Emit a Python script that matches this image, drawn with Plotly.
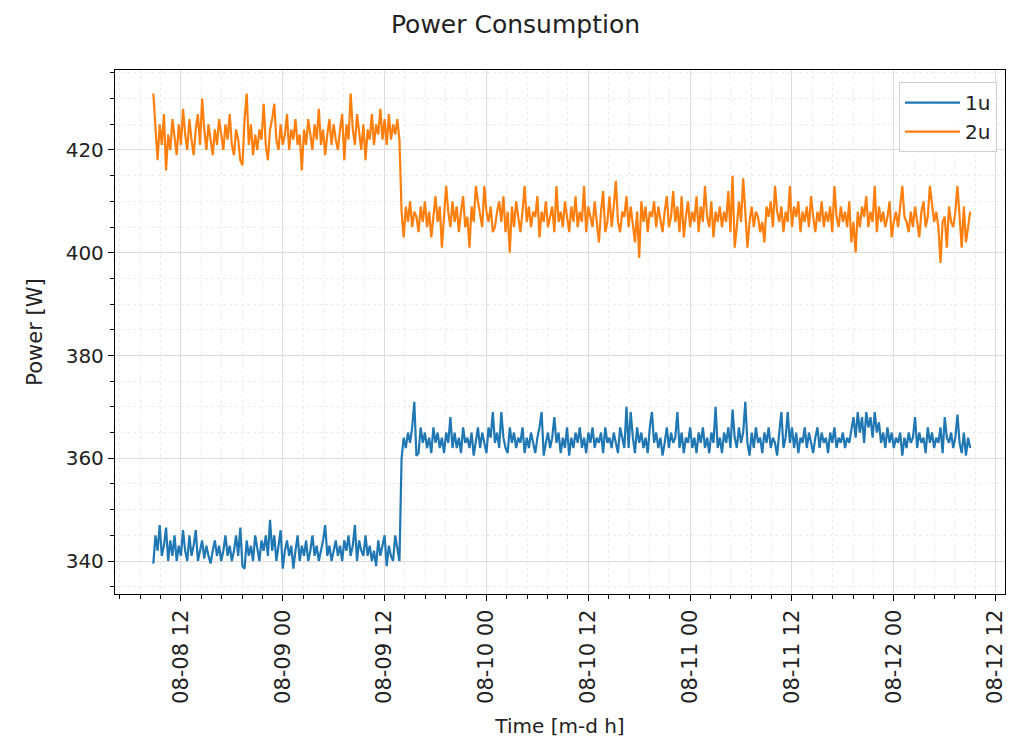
import pandas as pd
import plotly.graph_objects as go

start_time = "2023-08-08 08:45"
freq = "15min"

series_names = ["1u", "2u"]

power_1u = [
    339.5, 345, 342, 347, 341, 343, 346.5, 340, 344, 341,
    345, 340, 343, 341, 346, 342, 340, 345, 341, 343,
    346, 340, 342, 344, 340.5, 343, 341, 339.5, 342, 344,
    341, 343, 340, 342, 345, 341, 343, 340, 342, 345,
    341, 346.5, 339, 338.5, 344, 341, 343, 340, 345, 342,
    340, 344, 342, 345, 341, 348, 342, 345, 340, 343,
    346, 338.5, 342, 344, 341, 343, 338.5, 342, 345, 340,
    343, 341, 344, 340, 342, 345, 341, 343, 340, 342,
    344, 347, 341, 343, 340, 342, 344, 341, 343, 340,
    344, 342, 345, 341, 343, 347, 340, 344, 342, 341,
    345, 341, 343, 340, 342, 339, 344, 341, 343, 345,
    339, 343, 341, 340, 345, 342, 340,
    360, 364, 362, 365, 363, 366, 371, 360.5, 361, 366,
    363, 365, 362, 364, 361, 366, 363, 365, 362, 364,
    361, 365, 363, 368, 362, 365, 362, 364, 361, 366,
    363, 364, 362, 365, 360.5, 363, 366, 362, 365, 363,
    361, 366, 364, 369, 363, 365, 362, 369, 364, 362,
    361, 366, 363, 365, 362, 364, 363, 366, 361, 364,
    362, 365, 363, 361, 364, 366, 369, 360.5, 363, 365,
    362, 364, 368, 363, 365, 361, 364, 362, 366, 360.5,
    364, 362, 365, 363, 366, 362, 364, 361, 365, 363,
    366, 362, 364, 363, 365, 361, 366, 363, 364, 362,
    365, 363, 361, 366, 364, 362, 370, 362, 369, 364,
    361, 366, 363, 365, 362, 364, 361, 366, 369, 363,
    365, 362, 364, 360.5, 363, 366, 362, 365, 363, 364,
    369, 362, 365, 361, 364, 363, 366, 362, 364, 361,
    365, 363, 366, 362, 364, 361, 365, 363, 370, 362,
    364, 361, 365, 363, 366, 362, 369.5, 364, 362, 366,
    363, 365, 371, 363, 360.5, 365, 362, 366, 363, 364,
    361, 365, 363, 366, 362, 364, 363, 360.5, 365, 369,
    362, 364, 369, 363, 366, 362, 365, 361, 364, 363,
    366, 362, 365, 363, 361, 364, 366, 362, 365, 363,
    364, 361, 365, 363, 366, 362, 364, 363, 365, 362,
    364, 363, 366, 368, 364, 369, 365, 368, 363, 369,
    366, 368, 364, 369, 365, 367, 363, 365, 362, 366,
    363, 365, 362, 364, 363, 365, 360.5, 364, 362, 365,
    363, 364, 368, 362, 365, 363, 364, 361, 366, 363,
    365, 362, 364, 363, 366, 361, 368, 364, 363, 365,
    362, 364, 368.5, 363, 361, 365, 360.5, 364, 362,
]

power_2u = [
    431, 424, 418, 425, 421, 427, 416, 423, 420, 426,
    422, 419, 425, 421, 428, 423, 420, 426, 422, 419,
    424, 427, 421, 430, 424, 420, 425, 422, 419, 424,
    421, 426, 423, 420, 425, 422, 427, 421, 419, 424,
    422, 418, 417, 426, 431, 421, 425, 419, 423, 420,
    424, 422, 429, 421, 418, 424, 426, 429, 422, 420,
    425, 421, 423, 427, 420, 424, 422, 426, 421, 423,
    416, 424, 421, 426, 423, 420, 425, 422, 428, 421,
    424, 419, 423, 426, 421, 425, 422, 420, 424, 427,
    418, 425, 422, 431, 424, 421, 427, 423, 420, 425,
    418, 424, 422, 427, 421, 425, 423, 428, 422, 426,
    421, 427, 422, 425, 423, 426, 422,
    408, 403, 409, 406, 410, 405, 408, 407, 404, 409,
    406, 410, 405, 408, 403, 407, 411, 406, 409, 401,
    407, 413, 408, 405, 410, 406, 409, 404, 408, 411,
    405, 407, 401, 409, 406, 413, 410, 407, 405, 413,
    408, 406, 409, 404, 405, 408, 410, 406, 411, 404,
    408, 400, 409, 405, 410, 407, 404, 408, 413, 406,
    409, 405, 408, 407, 411, 403, 408, 406, 410, 405,
    407, 409, 404, 413, 406, 408, 405, 410, 407, 404,
    409, 406, 411, 405, 408, 406, 413, 404, 409, 407,
    405, 410, 406, 402, 408, 412, 404, 406, 411, 405,
    409, 414, 406, 404, 408, 407, 411, 405, 409, 406,
    402, 408, 399, 410, 406, 409, 404, 408, 407, 410,
    405, 409, 406, 404, 408, 411, 405, 407, 412, 406,
    409, 404, 411, 403, 407, 410, 405, 408, 406, 411,
    404, 409, 406, 413, 407, 405, 410, 403, 408, 406,
    409, 405, 408, 406, 412, 404, 415, 401, 405, 410,
    406, 414.5, 408, 401, 406, 409, 405, 408, 407, 404,
    406, 402, 409, 407, 410, 405, 413, 408, 406, 409,
    404, 408, 406, 413, 405, 409, 407, 410, 404, 408,
    406, 409, 405, 411, 407, 404, 408, 406, 410, 405,
    408, 406, 409, 404, 413, 407, 405, 409, 406, 408,
    405, 410, 402, 406, 400, 408, 405, 409, 407, 411,
    405, 408, 406, 413, 404, 409, 406, 408, 405, 407,
    410, 403, 406, 408, 405, 409, 413, 407, 406, 404,
    408, 405, 409, 406, 403, 408, 410, 405, 407, 413,
    409, 406, 408, 405, 398, 406, 407, 401, 409, 406,
    405, 408, 413, 406, 401, 409, 402, 405, 408,
]

y_ticks = [340, 360, 380, 400, 420]
x_range = ["2023-08-08 04:14", "2023-08-12 13:06"]
y_range = [333.58, 435.57]

times = pd.date_range(start_time, periods=len(power_1u), freq=freq)

FONT = "DejaVu Sans"
colors = ["#1f77b4", "#ff7f0e"]

fig = go.Figure()
for name, vals, col in zip(series_names, [power_1u, power_2u], colors):
    fig.add_trace(go.Scatter(x=times, y=vals, mode="lines", name=name,
                             line=dict(color=col, width=2.2)))

fig.update_layout(
    width=1015, height=741,
    margin=dict(l=107, r=18, t=62, b=155, autoexpand=False),
    paper_bgcolor="white", plot_bgcolor="white",
    font=dict(family=FONT, size=18, color="#222222"),
    title=dict(text="Power Consumption", x=0.5, xanchor="center",
               y=1 - 16 / 741, yanchor="middle", font=dict(size=25, color="#222222")),
    showlegend=True,
    legend=dict(x=0.991, xanchor="right", y=0.977, yanchor="top",
                bgcolor="rgba(255,255,255,0.85)", bordercolor="#d0d0d0", borderwidth=1,
                font=dict(size=20), tracegroupgap=4, itemwidth=55),
)

fig.update_xaxes(
    type="date", range=x_range, automargin=False,
    tick0="2023-08-08 00:00", dtick=12 * 3600 * 1000, tickformat="%m-%d %H",
    tickangle=-90, tickfont=dict(size=21),
    ticks="outside", ticklen=6, tickcolor="black", tickwidth=1.2,
    showline=True, linecolor="black", linewidth=1.3, mirror=True,
    showgrid=True, gridcolor="#dcdcdc", gridwidth=1,
    zeroline=False,
    minor=dict(dtick=2.4 * 3600 * 1000, tick0="2023-08-08 00:00", ticks="outside",
               ticklen=3.5, tickcolor="black", showgrid=True, gridcolor="#ececec",
               griddash="dot"),
    title=dict(text="Time [m-d h]", font=dict(size=20), standoff=16),
)
fig.update_yaxes(
    range=y_range, tickvals=y_ticks, tickfont=dict(size=20), automargin=False,
    ticks="outside", ticklen=6, tickcolor="black", tickwidth=1.2,
    showline=True, linecolor="black", linewidth=1.3, mirror=True,
    showgrid=True, gridcolor="#dcdcdc", gridwidth=1,
    zeroline=False,
    minor=dict(dtick=5, tick0=0, ticks="outside", ticklen=3.5, tickcolor="black",
               showgrid=True, gridcolor="#ececec", griddash="dot"),
    title=dict(text="Power [W]", font=dict(size=21), standoff=17),
)

fig.write_html("out.html")
